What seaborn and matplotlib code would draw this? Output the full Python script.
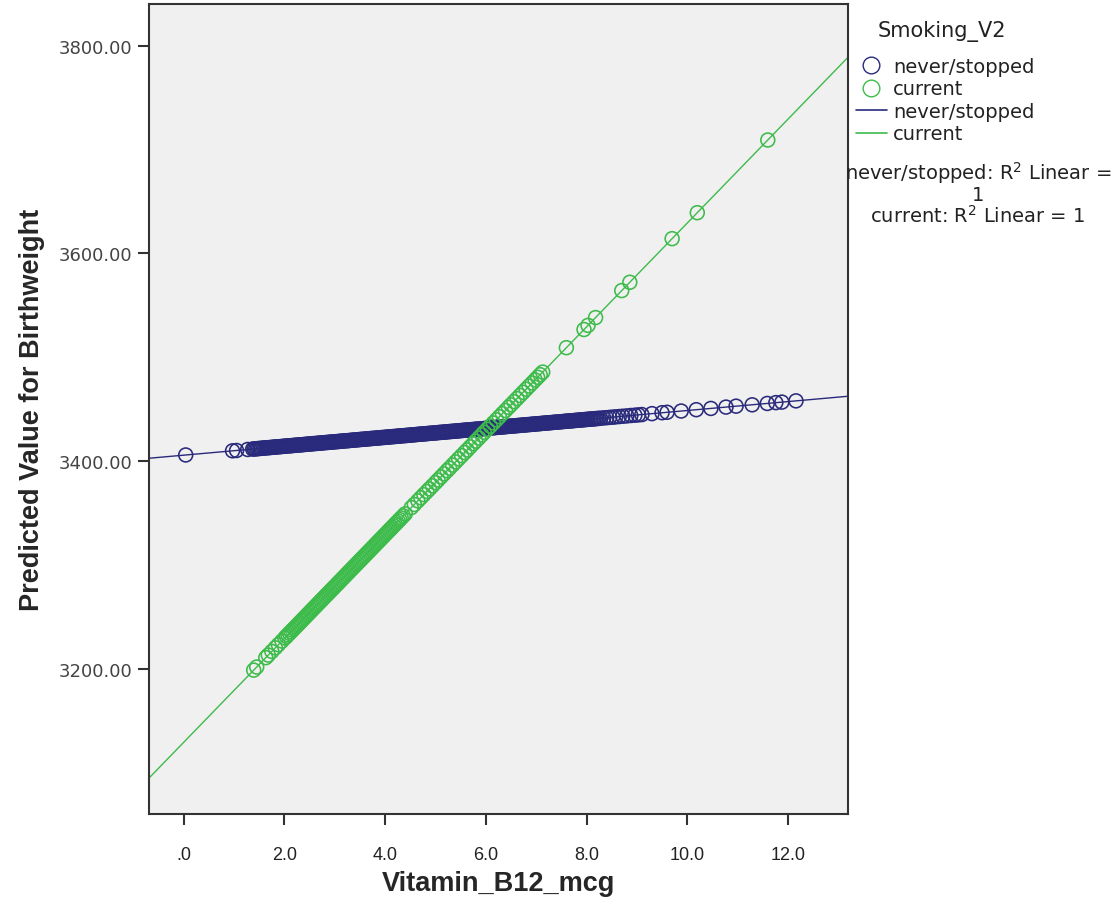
import pandas as pd
import matplotlib.pyplot as plt
import seaborn as sns
from matplotlib.lines import Line2D

# Data (Vitamin B12 vs predicted birthweight)
never_x = [0.04, 0.97, 1.05, 1.27,
           1.37, 1.40, 1.43, 1.46, 1.49, 1.52, 1.55, 1.58, 1.61, 1.64,
           1.67, 1.70, 1.73, 1.76, 1.79, 1.82, 1.85, 1.88, 1.91, 1.94,
           1.97, 2.00, 2.03, 2.06, 2.09, 2.12, 2.15, 2.18, 2.21, 2.24,
           2.27, 2.30, 2.33, 2.36, 2.39, 2.42, 2.45, 2.48, 2.51, 2.54,
           2.57, 2.60, 2.63, 2.66, 2.69, 2.72, 2.75, 2.78, 2.81, 2.84,
           2.87, 2.90, 2.93, 2.96, 2.99, 3.02, 3.05, 3.08, 3.11, 3.14,
           3.17, 3.20, 3.23, 3.26, 3.29, 3.32, 3.35, 3.38, 3.41, 3.44,
           3.47, 3.50, 3.53, 3.56, 3.59, 3.62, 3.65, 3.68, 3.71, 3.74,
           3.77, 3.80, 3.83, 3.86, 3.89, 3.92, 3.95, 3.98, 4.01, 4.04,
           4.07, 4.10, 4.13, 4.16, 4.19, 4.22, 4.25, 4.28, 4.31, 4.34,
           4.37, 4.40, 4.43, 4.46, 4.49, 4.52, 4.55, 4.58, 4.61, 4.64,
           4.67, 4.70, 4.73, 4.76, 4.79, 4.82, 4.85, 4.88, 4.91, 4.94,
           4.97, 5.00, 5.03, 5.06, 5.09, 5.12, 5.15, 5.18, 5.21, 5.24,
           5.27, 5.30, 5.33, 5.36, 5.39, 5.42, 5.45, 5.48, 5.51, 5.54,
           5.57, 5.60, 5.63, 5.66, 5.69, 5.72, 5.75, 5.78, 5.81, 5.84,
           5.87, 5.90, 5.93, 5.96, 5.99, 6.02, 6.05, 6.08, 6.11, 6.14,
           6.17, 6.20, 6.23, 6.26, 6.29, 6.32, 6.35, 6.38, 6.41, 6.44,
           6.47, 6.50, 6.53, 6.56, 6.59, 6.62, 6.65, 6.68, 6.71, 6.74,
           6.77, 6.80, 6.83, 6.86, 6.89, 6.92, 6.95, 6.98, 7.01, 7.04,
           7.07, 7.10, 7.13, 7.16, 7.19, 7.22, 7.25, 7.28, 7.31, 7.34,
           7.37, 7.40, 7.43, 7.46, 7.49, 7.52, 7.55, 7.58, 7.61, 7.64,
           7.67, 7.70, 7.73, 7.76, 7.79, 7.82, 7.85, 7.88, 7.91, 7.94,
           7.97, 8.00, 8.03, 8.06, 8.09, 8.12, 8.15, 8.18, 8.21, 8.24,
           8.28, 8.34, 8.40, 8.46, 8.52, 8.58, 8.65, 8.72, 8.80, 8.88,
           8.96, 9.03, 9.10,
           9.30, 9.50, 9.60, 9.88, 10.18, 10.47, 10.77, 10.97, 11.29, 11.59, 11.76, 11.88, 12.16]
never_y = [3405.7, 3409.7, 3410.0, 3411.0,
           3411.4, 3411.5, 3411.6, 3411.8, 3411.9, 3412.0, 3412.2, 3412.3, 3412.4, 3412.6,
           3412.7, 3412.8, 3412.9, 3413.1, 3413.2, 3413.3, 3413.5, 3413.6, 3413.7, 3413.8,
           3414.0, 3414.1, 3414.2, 3414.4, 3414.5, 3414.6, 3414.7, 3414.9, 3415.0, 3415.1,
           3415.3, 3415.4, 3415.5, 3415.6, 3415.8, 3415.9, 3416.0, 3416.2, 3416.3, 3416.4,
           3416.6, 3416.7, 3416.8, 3416.9, 3417.1, 3417.2, 3417.3, 3417.5, 3417.6, 3417.7,
           3417.8, 3418.0, 3418.1, 3418.2, 3418.4, 3418.5, 3418.6, 3418.7, 3418.9, 3419.0,
           3419.1, 3419.3, 3419.4, 3419.5, 3419.6, 3419.8, 3419.9, 3420.0, 3420.2, 3420.3,
           3420.4, 3420.6, 3420.7, 3420.8, 3420.9, 3421.1, 3421.2, 3421.3, 3421.5, 3421.6,
           3421.7, 3421.8, 3422.0, 3422.1, 3422.2, 3422.4, 3422.5, 3422.6, 3422.7, 3422.9,
           3423.0, 3423.1, 3423.3, 3423.4, 3423.5, 3423.6, 3423.8, 3423.9, 3424.0, 3424.2,
           3424.3, 3424.4, 3424.5, 3424.7, 3424.8, 3424.9, 3425.1, 3425.2, 3425.3, 3425.5,
           3425.6, 3425.7, 3425.8, 3426.0, 3426.1, 3426.2, 3426.4, 3426.5, 3426.6, 3426.7,
           3426.9, 3427.0, 3427.1, 3427.3, 3427.4, 3427.5, 3427.6, 3427.8, 3427.9, 3428.0,
           3428.2, 3428.3, 3428.4, 3428.5, 3428.7, 3428.8, 3428.9, 3429.1, 3429.2, 3429.3,
           3429.5, 3429.6, 3429.7, 3429.8, 3430.0, 3430.1, 3430.2, 3430.4, 3430.5, 3430.6,
           3430.7, 3430.9, 3431.0, 3431.1, 3431.3, 3431.4, 3431.5, 3431.6, 3431.8, 3431.9,
           3432.0, 3432.2, 3432.3, 3432.4, 3432.5, 3432.7, 3432.8, 3432.9, 3433.1, 3433.2,
           3433.3, 3433.5, 3433.6, 3433.7, 3433.8, 3434.0, 3434.1, 3434.2, 3434.4, 3434.5,
           3434.6, 3434.7, 3434.9, 3435.0, 3435.1, 3435.3, 3435.4, 3435.5, 3435.6, 3435.8,
           3435.9, 3436.0, 3436.2, 3436.3, 3436.4, 3436.5, 3436.7, 3436.8, 3436.9, 3437.1,
           3437.2, 3437.3, 3437.4, 3437.6, 3437.7, 3437.8, 3438.0, 3438.1, 3438.2, 3438.4,
           3438.5, 3438.6, 3438.7, 3438.9, 3439.0, 3439.1, 3439.3, 3439.4, 3439.5, 3439.6,
           3439.8, 3439.9, 3440.0, 3440.2, 3440.3, 3440.4, 3440.5, 3440.7, 3440.8, 3440.9,
           3441.1, 3441.4, 3441.6, 3441.9, 3442.1, 3442.4, 3442.7, 3443.0, 3443.3, 3443.7,
           3444.0, 3444.3, 3444.6,
           3445.5, 3446.4, 3446.8, 3448.0, 3449.3, 3450.5, 3451.8, 3452.7, 3454.0, 3455.3, 3456.1, 3456.6, 3457.8]

current_x = [1.39, 1.45, 1.63, 1.68, 1.75, 1.82, 1.88, 1.95,
             2.01, 2.04, 2.07, 2.10, 2.13, 2.16, 2.19, 2.22, 2.25, 2.28,
             2.31, 2.34, 2.37, 2.40, 2.43, 2.46, 2.49, 2.52, 2.55, 2.58,
             2.61, 2.64, 2.67, 2.70, 2.73, 2.76, 2.79, 2.82, 2.85, 2.88,
             2.91, 2.94, 2.97, 3.00, 3.03, 3.06, 3.09, 3.12, 3.15, 3.18,
             3.21, 3.24, 3.27, 3.30, 3.33, 3.36, 3.39, 3.42, 3.45, 3.48,
             3.51, 3.54, 3.57, 3.60, 3.63, 3.66, 3.69, 3.72, 3.75, 3.78,
             3.81, 3.84, 3.87, 3.90, 3.93, 3.96, 3.99, 4.02, 4.05, 4.08,
             4.11, 4.14, 4.17, 4.20, 4.23, 4.26, 4.29, 4.32,
             4.36, 4.40, 4.52, 4.58, 4.65, 4.71, 4.77, 4.83, 4.88, 4.94,
             5.00, 5.05, 5.11, 5.17, 5.23, 5.28, 5.34, 5.40, 5.46, 5.52,
             5.58, 5.63, 5.69, 5.75, 5.80, 5.86, 5.92, 5.97, 6.03, 6.09,
             6.15, 6.21, 6.27, 6.33, 6.39, 6.45, 6.50, 6.56, 6.62, 6.68,
             6.74, 6.80, 6.86, 6.92, 6.98, 7.03, 7.08, 7.13,
             7.60, 7.95, 8.03, 8.18, 8.70, 8.86, 9.70, 10.20, 11.60]
current_y = [3198.5, 3201.5, 3210.5, 3213.0, 3216.5, 3220.0, 3223.0, 3226.5,
             3229.5, 3231.0, 3232.5, 3234.0, 3235.5, 3237.0, 3238.5, 3240.0, 3241.5, 3243.0,
             3244.5, 3246.0, 3247.5, 3249.0, 3250.5, 3252.0, 3253.5, 3255.0, 3256.5, 3258.0,
             3259.5, 3261.0, 3262.5, 3264.0, 3265.5, 3267.0, 3268.5, 3270.0, 3271.5, 3273.0,
             3274.5, 3276.0, 3277.5, 3279.0, 3280.5, 3282.0, 3283.5, 3285.0, 3286.5, 3288.0,
             3289.5, 3291.0, 3292.5, 3294.0, 3295.5, 3297.0, 3298.5, 3300.0, 3301.5, 3303.0,
             3304.5, 3306.0, 3307.5, 3309.0, 3310.5, 3312.0, 3313.5, 3315.0, 3316.5, 3318.0,
             3319.5, 3321.0, 3322.5, 3324.0, 3325.5, 3327.0, 3328.5, 3330.0, 3331.5, 3333.0,
             3334.5, 3336.0, 3337.5, 3339.0, 3340.5, 3342.0, 3343.5, 3345.0,
             3347.0, 3349.0, 3355.0, 3358.0, 3361.5, 3364.5, 3367.5, 3370.5, 3373.0, 3376.0,
             3379.0, 3381.5, 3384.5, 3387.5, 3390.5, 3393.0, 3396.0, 3399.0, 3402.0, 3405.0,
             3408.0, 3410.5, 3413.5, 3416.5, 3419.0, 3422.0, 3425.0, 3427.5, 3430.5, 3433.5,
             3436.5, 3439.5, 3442.5, 3445.5, 3448.5, 3451.5, 3454.0, 3457.0, 3460.0, 3463.0,
             3466.0, 3469.0, 3472.0, 3475.0, 3478.0, 3480.5, 3483.0, 3485.5,
             3509.0, 3526.5, 3530.5, 3538.0, 3564.0, 3572.0, 3614.0, 3639.0, 3709.0]

groups = ['never/stopped', 'current']
x_ticks = [0, 2, 4, 6, 8, 10, 12]
x_tick_labels = ['.0', '2.0', '4.0', '6.0', '8.0', '10.0', '12.0']
y_ticks = [3200, 3400, 3600, 3800]
y_tick_labels = ['3200.00', '3400.00', '3600.00', '3800.00']

df = pd.concat([
    pd.DataFrame({'Vitamin_B12_mcg': never_x, 'Predicted': never_y, 'Smoking_V2': groups[0]}),
    pd.DataFrame({'Vitamin_B12_mcg': current_x, 'Predicted': current_y, 'Smoking_V2': groups[1]}),
])

palette = {'never/stopped': '#2a2a7c', 'current': '#3dbb4b'}

sns.set_style("ticks")
narrow = ['Liberation Sans Narrow', 'Liberation Sans', 'DejaVu Sans']

fig = plt.figure(figsize=(11.2, 9.03), dpi=100)
ax = fig.add_axes([0.133, 0.0975, 0.624, 0.897])
ax.set_facecolor('#f0f0f0')
ax.set_xlim(-0.69, 13.19)
ax.set_ylim(3060, 3840)

# scatter of predicted values (hollow circles) + fit line over the full axis
for g in groups:
    sub = df[df['Smoking_V2'] == g]
    ax.scatter(sub['Vitamin_B12_mcg'], sub['Predicted'], s=100, facecolors='none',
               edgecolors=palette[g], linewidths=1.15, zorder=3)
    sns.regplot(data=sub, x='Vitamin_B12_mcg', y='Predicted', scatter=False, ci=None,
                truncate=False, color=palette[g], line_kws={'linewidth': 1.0, 'zorder': 2}, ax=ax)

ax.set_xlim(-0.69, 13.19)
ax.set_ylim(3060, 3840)

ax.set_xticks(x_ticks)
ax.set_xticklabels(x_tick_labels, family=narrow, fontsize=13, color='#222222')
ax.set_yticks(y_ticks)
ax.set_yticklabels(y_tick_labels, family='DejaVu Sans', fontsize=13, color='#444444')
ax.tick_params(axis='both', direction='out', length=8, width=1.5, color='#333333', pad=4)
ax.tick_params(axis='x', pad=15)

for side in ['top', 'right', 'bottom', 'left']:
    ax.spines[side].set_visible(True)
    ax.spines[side].set_color('#333333')
    ax.spines[side].set_linewidth(1.5)

ax.set_xlabel('Vitamin_B12_mcg', family=narrow, fontsize=19.5, fontweight='bold', labelpad=5)
ax.set_ylabel('Predicted Value for Birthweight', family=narrow, fontsize=19.5, fontweight='bold', labelpad=10)

# legend to the right of the plot
fig.text(0.841, 0.965, 'Smoking_V2', ha='center', va='center', fontsize=15, color='#222222')
legend_elements = [
    Line2D([0], [0], marker='o', color='none', markerfacecolor='none', markeredgecolor=palette['never/stopped'],
           markersize=12, label='never/stopped'),
    Line2D([0], [0], marker='o', color='none', markerfacecolor='none', markeredgecolor=palette['current'],
           markersize=12, label='current'),
    Line2D([0], [0], color=palette['never/stopped'], linewidth=1.2, label='never/stopped'),
    Line2D([0], [0], color=palette['current'], linewidth=1.2, label='current'),
]
leg = fig.legend(handles=legend_elements, loc='upper left',
                 bbox_to_anchor=(0.752, 0.951), frameon=False, fontsize=14,
                 handlelength=1.6, handletextpad=0.3,
                 labelspacing=0.18, borderpad=0.2)
for t in leg.get_texts():
    t.set_color('#222222')

fig.text(0.873, 0.823, 'never/stopped: R$^2$ Linear =\n1\ncurrent: R$^2$ Linear = 1',
         ha='center', va='top', fontsize=14, color='#222222', linespacing=1.0)

plt.savefig('out.png', dpi=100)
